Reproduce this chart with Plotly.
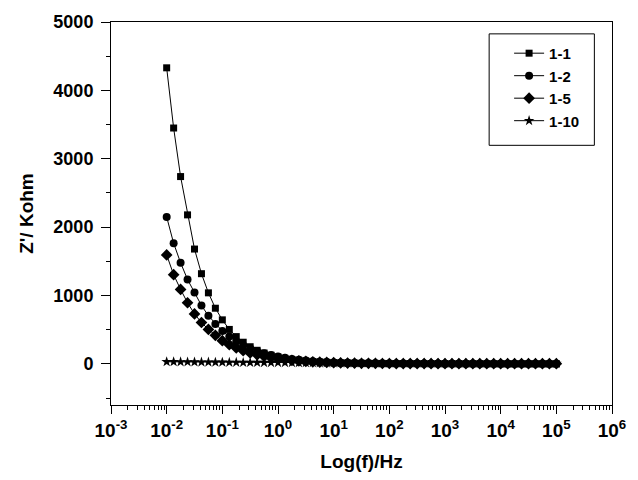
import plotly.graph_objects as go

# Frequencies (Hz): 8 points per decade, 1e-2 .. 1e5
freq = [
    0.01, 0.01334, 0.01778, 0.02371, 0.03162, 0.04217, 0.05623, 0.07499,
    0.1, 0.1334, 0.1778, 0.2371, 0.3162, 0.4217, 0.5623, 0.7499,
    1.0, 1.334, 1.778, 2.371, 3.162, 4.217, 5.623, 7.499,
    10.0, 13.34, 17.78, 23.71, 31.62, 42.17, 56.23, 74.99,
    100.0, 133.4, 177.8, 237.1, 316.2, 421.7, 562.3, 749.9,
    1000.0, 1334.0, 1778.0, 2371.0, 3162.0, 4217.0, 5623.0, 7499.0,
    10000.0, 13340.0, 17780.0, 23710.0, 31620.0, 42170.0, 56230.0, 74990.0,
    100000.0,
]

z_1_1 = [
    4330, 3450, 2740, 2180, 1680, 1320, 1040, 815,
    645, 505, 400, 318, 252, 200, 160, 128,
    102, 82, 66, 53, 43, 35, 29, 24,
    20, 17, 14.5, 12.5, 11, 9.8, 8.8, 8,
    7.4, 6.9, 6.5, 6.1, 5.8, 5.5, 5.3, 5.1,
    4.9, 4.7, 4.6, 4.5, 4.4, 4.3, 4.2, 4.1,
    4.0, 3.9, 3.9, 3.8, 3.8, 3.7, 3.7, 3.6,
    3.6,
]

z_1_2 = [
    2150, 1765, 1480, 1235, 1045, 855, 705, 585,
    482, 400, 330, 274, 228, 190, 158, 131,
    109, 90, 74, 61, 50, 41, 34, 28,
    23, 19.5, 16.5, 14, 12, 10.5, 9.3, 8.3,
    7.5, 6.9, 6.4, 6.0, 5.7, 5.4, 5.2, 5.0,
    4.8, 4.7, 4.6, 4.5, 4.4, 4.3, 4.2, 4.1,
    4.0, 4.0, 3.9, 3.9, 3.8, 3.8, 3.7, 3.7,
    3.7,
]

z_1_5 = [
    1595, 1305, 1090, 895, 732, 606, 505, 419,
    340, 282, 234, 194, 161, 134, 111, 92,
    77, 64, 53, 44, 37, 31, 26, 22,
    18.5, 15.5, 13, 11.2, 9.8, 8.7, 7.8, 7.1,
    6.5, 6.1, 5.7, 5.4, 5.2, 5.0, 4.8, 4.7,
    4.6, 4.5, 4.4, 4.3, 4.2, 4.1, 4.0, 4.0,
    3.9, 3.9, 3.8, 3.8, 3.8, 3.7, 3.7, 3.7,
    3.7,
]

z_1_10 = [
    32, 31, 30, 29, 28, 27, 26, 25,
    24, 23, 22, 21.5, 21, 20.5, 20, 19.5,
    19, 18.5, 18, 17.5, 17, 16.5, 16, 15.5,
    15, 14.5, 14, 13.5, 13, 12.8, 12.6, 12.4,
    12.2, 12, 11.8, 11.6, 11.4, 11.2, 11, 10.8,
    10.6, 10.4, 10.2, 10, 9.8, 9.6, 9.4, 9.2,
    9, 8.8, 8.6, 8.4, 8.2, 8, 7.8, 7.6,
    7.4,
]

series = [
    ("1-1", z_1_1, "square", 7),
    ("1-2", z_1_2, "circle", 8),
    ("1-5", z_1_5, "diamond", 9),
    ("1-10", z_1_10, "star", 8),
]

x_tickvals = [1e-3, 1e-2, 1e-1, 1e0, 1e1, 1e2, 1e3, 1e4, 1e5, 1e6]
x_ticktext = ["10<sup>-3</sup>", "10<sup>-2</sup>", "10<sup>-1</sup>", "10<sup>0</sup>",
              "10<sup>1</sup>", "10<sup>2</sup>", "10<sup>3</sup>", "10<sup>4</sup>",
              "10<sup>5</sup>", "10<sup>6</sup>"]
y_tickvals = [0, 1000, 2000, 3000, 4000, 5000]

FONT = "Liberation Sans, Arial, sans-serif"

fig = go.Figure()
for name, vals, sym, size in series:
    fig.add_trace(go.Scatter(
        x=freq, y=vals, name=name, mode="lines+markers",
        line=dict(color="black", width=1),
        marker=dict(symbol=sym, size=size, color="black", line=dict(width=0)),
    ))

# legend frame (drawn as a box so it can be padded like the original)
fig.add_shape(type="rect", xref="paper", yref="paper",
              x0=0.7548, x1=0.9648, y0=0.678, y1=0.969,
              line=dict(color="black", width=1), fillcolor="white", layer="below")

fig.update_layout(
    width=638, height=480,
    margin=dict(l=111, r=16, t=19, b=73),
    paper_bgcolor="white", plot_bgcolor="white",
    font=dict(family=FONT, color="black"),
    showlegend=True,
    legend=dict(
        x=0.7946, y=0.961, xanchor="left", yanchor="top",
        bgcolor="rgba(0,0,0,0)", borderwidth=0,
        font=dict(family=FONT, size=15, color="black", weight="bold"),
    ),
)

fig.update_xaxes(
    type="log", range=[-3, 6],
    tickvals=x_tickvals, ticktext=x_ticktext,
    tickfont=dict(family=FONT, size=19, color="black", weight="bold"),
    ticks="outside", ticklen=8, tickwidth=1, tickcolor="black",
    minor=dict(ticks="outside", ticklen=4, tickwidth=1, tickcolor="black", dtick="D1", showgrid=False),
    showline=True, linecolor="black", linewidth=1, mirror=True,
    showgrid=False, zeroline=False,
    title=dict(text="Log(f)/Hz", font=dict(family=FONT, size=19, color="black", weight="bold"), standoff=14),
)

fig.update_yaxes(
    range=[-600, 5000],
    tickvals=y_tickvals,
    tickfont=dict(family=FONT, size=18, color="black", weight="bold"),
    ticks="outside", ticklen=9, tickwidth=1, tickcolor="black",
    ticklabelstandoff=4,
    minor=dict(ticks="outside", ticklen=4, tickwidth=1, tickcolor="black", dtick=500, tick0=0, showgrid=False),
    showline=True, linecolor="black", linewidth=1, mirror=True,
    showgrid=False, zeroline=False,
    title=dict(text="Z'/ Kohm", font=dict(family=FONT, size=19, color="black", weight="bold"), standoff=14),
)

fig.write_html("out.html")
